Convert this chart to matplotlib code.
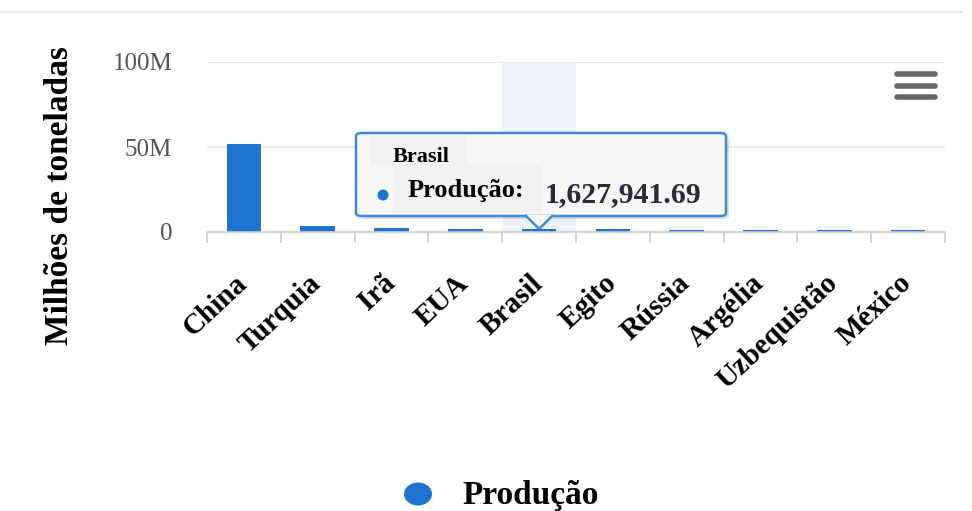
import matplotlib
matplotlib.use("Agg")
import matplotlib.pyplot as plt
from matplotlib.patches import FancyBboxPatch, Polygon, Rectangle, Ellipse
from matplotlib.lines import Line2D

paises = ["China", "Turquia", "Irã", "EUA", "Brasil", "Egito", "Rússia",
          "Argélia", "Uzbequistão", "México"]
producao = [52.0e6, 3.5e6, 2.4e6, 1.7e6, 1627941.69, 1.5e6, 1.4e6, 1.3e6, 1.2e6, 1.1e6]
yticks = [0, 50e6, 100e6]
ytick_labels = ["0", "50M", "100M"]
destaque = 4  # Brasil

W, H = 972, 511
azul = "#1f73d0"
serif = ["Liberation Serif", "DejaVu Serif"]

fig = plt.figure(figsize=(W / 100, H / 100), dpi=100)

def px(x, y):
    # pixel coords (top-left origin) -> figure fraction
    return x / W, 1 - y / H

ax = fig.add_axes([207 / W, 1 - 232 / H, (945 - 207) / W, (232 - 62) / H])
n = len(paises)
ax.set_xlim(-0.5, n - 0.5)
ax.set_ylim(0, 100e6)

# highlight band for hovered category
ax.axvspan(destaque - 0.5, destaque + 0.5, color="#eef2f8", zorder=0, lw=0)

for y in yticks[1:]:
    ax.axhline(y, color="#e6e6e6", lw=1.2, zorder=1)

ax.bar(range(n), producao, width=0.47, color=azul, zorder=2)

for s in ["top", "right", "left"]:
    ax.spines[s].set_visible(False)
ax.spines["bottom"].set_color("#cccccc")
ax.spines["bottom"].set_linewidth(1.2)

ax.set_yticks(yticks)
ax.set_yticklabels(ytick_labels, fontfamily=serif, fontsize=18, color="#555555")
ax.tick_params(axis="y", length=0, pad=25)

ax.set_xticks([i - 0.5 for i in range(n + 1)], minor=False)
ax.set_xticklabels([])
ax.tick_params(axis="x", length=8, color="#cccccc", width=1.2)
for i, p in enumerate(paises):
    ax.annotate(p, (i, 0), xytext=(-7, -27), textcoords="offset points",
                rotation=43, ha="right", va="top", rotation_mode="anchor",
                fontfamily=serif, fontsize=21, fontweight="bold")

fig.text(60 / W, 1 - 196 / H, "Milhões de toneladas", rotation=90,
         ha="center", va="center", fontfamily=serif, fontsize=24, fontweight="bold")

# top border line
fig.add_artist(Line2D([0, 962 / W], [1 - 12 / H] * 2, color="#e6e6e6", lw=1.5))

# menu icon
for yy in [74, 86, 97]:
    fig.add_artist(Line2D([897 / W, 935 / W], [1 - yy / H] * 2, color="#666666",
                          lw=4, solid_capstyle="round"))

# tooltip
tx0, ty0, tx1, ty1 = 356, 133, 726, 216
shadow = FancyBboxPatch(px(tx0 + 3, ty1 + 3), (tx1 - tx0) / W, (ty1 - ty0) / H,
                        boxstyle="round,pad=0,rounding_size=0.006",
                        transform=fig.transFigure, fc="#000000", alpha=0.12, ec="none")
fig.add_artist(shadow)
box = FancyBboxPatch(px(tx0, ty1), (tx1 - tx0) / W, (ty1 - ty0) / H,
                     boxstyle="round,pad=0,rounding_size=0.006",
                     transform=fig.transFigure, fc="#f7f7f7", ec="#3f8ad8", lw=1.8)
fig.add_artist(box)
for (bx0, by0, bx1, by1) in [(370, 135, 467, 165), (393, 165, 542, 212)]:
    fig.add_artist(Rectangle(px(bx0, by1), (bx1 - bx0) / W, (by1 - by0) / H,
                             transform=fig.transFigure, fc="#f1f1f1", ec="none"))
cx = ax.transData.transform((destaque, 0))[0]
caret = Polygon([px(cx - 13, ty1 - 1), px(cx, 229), px(cx + 13, ty1 - 1)],
                closed=True, transform=fig.transFigure, fc="#f7f7f7", ec="none")
fig.add_artist(caret)
fig.add_artist(Line2D([(cx - 13) / W, cx / W, (cx + 13) / W],
                      [1 - ty1 / H, 1 - 229 / H, 1 - ty1 / H],
                      color="#3f8ad8", lw=1.8))

fig.text(*px(393, 157), paises[destaque], ha="left", va="center",
         fontfamily=serif, fontsize=16, fontweight="bold")
fig.add_artist(Ellipse(px(383, 195), 11 / W, 11 / H, transform=fig.transFigure,
                       fc=azul, ec="none"))
fig.text(*px(408, 190), "Produção:", ha="left", va="center",
         fontfamily=serif, fontsize=19, fontweight="bold")
fig.text(*px(545, 195), f"{producao[destaque]:,.2f}", ha="left", va="center",
         fontfamily=serif, fontsize=21.5, fontweight="bold", color="#2a2a3a")

# legend
fig.add_artist(Ellipse(px(418, 494), 28 / W, 23 / H, transform=fig.transFigure,
                       fc=azul, ec="none"))
fig.text(*px(462, 495), "Produção", ha="left", va="center",
         fontfamily=serif, fontsize=24, fontweight="bold")

fig.savefig("out.png", dpi=100)
